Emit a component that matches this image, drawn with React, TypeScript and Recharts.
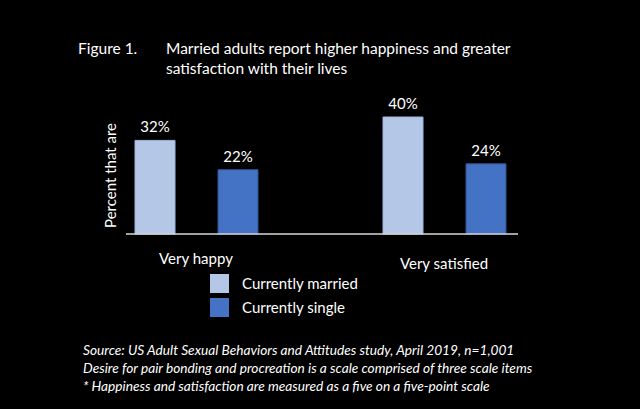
import React from 'react';
import { BarChart, Bar, XAxis, YAxis, LabelList, Legend } from 'recharts';

const categories = ['Very happy', 'Very satisfied'];
const married = [32, 40];
const single = [22, 24];
const seriesNames = ['Currently married', 'Currently single'];
const footnotes = [
  'Source: US Adult Sexual Behaviors and Attitudes study, April 2019, n=1,001',
  'Desire for pair bonding and procreation is a scale comprised of three scale items',
  '* Happiness and satisfaction are measured as a five on a five-point scale',
];

const FONT = 'Lato, "Open Sans", sans-serif';
const LIGHT = '#B4C7E7';
const BLUE = '#4472C4';

const data = categories.map((name, i) => ({
  name,
  married: married[i],
  single: single[i],
}));

const CategoryTick = (props: any) => {
  const { x, y, payload, index } = props;
  return (
    <text
      x={x}
      y={y}
      dy={index === 0 ? 22 : 27}
      textAnchor="middle"
      fill="#fff"
      fontSize={15}
      fontFamily={FONT}
    >
      {payload.value}
    </text>
  );
};

const LegendContent = (props: any) => {
  const { payload } = props;
  return (
    <div style={{ fontFamily: FONT, fontSize: 15, color: '#fff' }}>
      {(payload || []).map((p: any) => (
        <div key={p.value} style={{ display: 'flex', alignItems: 'center', height: 24 }}>
          <span
            style={{
              display: 'inline-block',
              width: 19,
              height: 19,
              background: p.color,
              marginRight: 13,
            }}
          />
          <span>{p.value}</span>
        </div>
      ))}
    </div>
  );
};

export default function App() {
  return (
    <div
      style={{
        position: 'fixed',
        left: 0,
        top: 0,
        width: 640,
        height: 409,
        background: '#000',
        overflow: 'hidden',
        fontFamily: FONT,
        color: '#fff',
      }}
    >
      <div style={{ position: 'absolute', left: 78, top: 38, fontSize: 15.5, lineHeight: '20px' }}>
        Figure 1.
      </div>
      <div style={{ position: 'absolute', left: 166, top: 38, fontSize: 15.5, lineHeight: '20px', width: 380 }}>
        Married adults report higher happiness and greater
        <br />
        satisfaction with their lives
      </div>

      <BarChart
        width={640}
        height={409}
        data={data}
        margin={{ top: 117, right: 122, bottom: 145, left: 96 }}
        barSize={40}
        barGap={43}
        style={{ position: 'absolute', left: 0, top: 0 }}
      >
        <XAxis
          dataKey="name"
          height={30}
          padding={{ left: -54, right: -50 }}
          axisLine={{ stroke: '#d9d9d9', strokeWidth: 1.5 }}
          tickLine={false}
          tick={<CategoryTick />}
          interval={0}
        />
        <YAxis
          domain={[0, 40]}
          width={30}
          tick={false}
          axisLine={false}
          tickLine={false}
          label={{
            value: 'Percent that are',
            angle: -90,
            position: 'center',
            fill: '#fff',
            fontSize: 15,
            fontFamily: FONT,
          }}
        />
        <Legend
          content={<LegendContent />}
          layout="vertical"
          align="center"
          verticalAlign="middle"
          wrapperStyle={{ position: 'absolute', left: 210, top: 271, width: 200 }}
        />
        <Bar dataKey="married" name={seriesNames[0]} fill={LIGHT} stroke="#9DB5DE" isAnimationActive={false}>
          <LabelList
            dataKey="married"
            position="top"
            offset={8}
            formatter={(v: any) => `${v}%`}
            fill="#fff"
            fontSize={15}
            fontFamily={FONT}
          />
        </Bar>
        <Bar dataKey="single" name={seriesNames[1]} fill={BLUE} stroke="#2F528F" isAnimationActive={false}>
          <LabelList
            dataKey="single"
            position="top"
            offset={8}
            formatter={(v: any) => `${v}%`}
            fill="#fff"
            fontSize={15}
            fontFamily={FONT}
          />
        </Bar>
      </BarChart>

      <div
        style={{
          position: 'absolute',
          left: 83,
          top: 341,
          fontSize: 13.7,
          lineHeight: '18px',
          fontStyle: 'italic',
        }}
      >
        {footnotes.map((t) => (
          <div key={t}>{t}</div>
        ))}
      </div>
    </div>
  );
}
